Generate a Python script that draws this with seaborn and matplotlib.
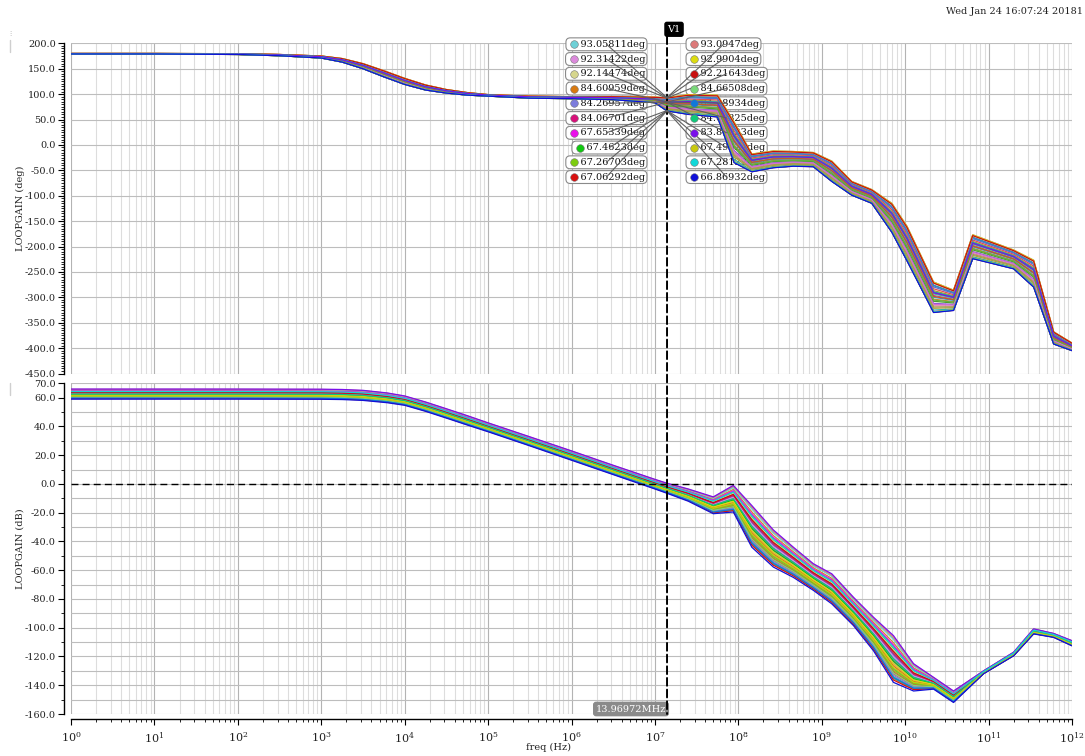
import numpy as np
import pandas as pd
import matplotlib
matplotlib.use("Agg")
import matplotlib.pyplot as plt
import seaborn as sns
from matplotlib.lines import Line2D
from matplotlib.patches import ConnectionPatch
from matplotlib.ticker import (MultipleLocator, FixedLocator, LogLocator,
                               LogFormatterSciNotation, NullFormatter, FuncFormatter)

# ---------------- sweep data ----------------
cursor_freq = 13.96972e6

# loop-gain phase envelope (deg): upper / lower edge of the sweep band
phase_freq = [1, 10, 100, 316, 1e3, 1.78e3, 3.16e3, 5.62e3, 1e4, 1.78e4, 3.16e4,
              5.62e4, 1e5, 3.16e5, 1e6, 3.16e6, 1e7, 13.96972e6, 2.51e7, 5.62e7,
              8.91e7, 1.45e8, 2.63e8, 4.57e8, 7.94e8, 1.32e9, 2.29e9, 3.98e9,
              6.92e9, 1.05e10, 2.19e10, 3.8e10, 6.46e10, 2e11, 3.47e11, 6.03e11, 1e12]
phase_hi = [180, 180, 179.5, 178, 175, 170, 160, 146, 131, 118, 109,
            103, 99, 96, 95, 95, 94, 93.0947, 99, 98,
            45, -18, -12, -13, -15, -32, -72, -88,
            -115, -160, -270, -286, -177, -207, -227, -368, -390]
phase_lo = [179, 179, 178, 175.5, 171, 163, 150, 134, 119, 108, 102,
            98, 96, 92, 91, 89, 83, 66.86932, 60, 55,
            -35, -53, -45, -42, -43, -72, -99, -115,
            -172, -228, -330, -326, -224, -244, -280, -392, -405]

# loop-gain magnitude envelope (dB)
mag_freq = [1, 10, 100, 1e3, 1.78e3, 3.16e3, 6.17e3, 1e4, 1.78e4, 3.16e4, 5.62e4,
            1e5, 3.16e5, 1e6, 3.16e6, 1e7, 13.96972e6, 2.51e7, 5.01e7, 8.71e7,
            1.45e8, 2.63e8, 4.57e8, 7.94e8, 1.32e9, 2.4e9, 4.17e9, 7.24e9,
            1.26e10, 2.19e10, 3.8e10, 8.71e10, 2e11, 3.47e11, 6.03e11, 1e12]
mag_hi = [66, 66, 66, 65.9, 65.7, 65.1, 63.3, 61.2, 57, 52.3, 47.5,
          42.5, 32.8, 23, 13, 3.2, 0.5, -3.5, -9, -1,
          -15, -32, -44, -55.5, -62.5, -78.8, -92.7, -105.5,
          -125, -134.5, -144, -130, -117, -100.8, -104, -109]
mag_lo = [59, 59, 59, 58.9, 58.7, 58.1, 56.5, 54.7, 50.5, 45.8, 41,
          36.3, 26.5, 16.5, 6.5, -3.5, -6.5, -12, -20.7, -19.5,
          -44, -57.8, -65, -74, -83.4, -98.5, -116, -138,
          -144, -142.7, -152, -132, -119.5, -104.3, -106.7, -112.6]

# marked runs: phase at the cursor and trace colours
marked_left_deg = [93.05811, 92.31422, 92.14474, 84.60959, 84.26957,
                   84.06701, 67.65339, 67.4623, 67.26703, 67.06292]
marked_left_colors = ["#6fd0d6", "#dc8adc", "#d6d68e", "#d87a10", "#7c7cdc",
                      "#d8107a", "#ea10ea", "#10c810", "#7ccc10", "#d81010"]
marked_left_mag_pos = [0.92, 0.55, 0.70, 0.35, 0.15, 0.62, 0.80, 0.45, 0.28, 0.05]

marked_right_deg = [93.0947, 92.9904, 92.21643, 84.66508, 84.48934,
                    84.08825, 83.85023, 67.49924, 67.28122, 66.86932]
marked_right_colors = ["#dc7a7a", "#dcdc10", "#c81010", "#7ad87a", "#1078d8",
                       "#10c87a", "#7a10ea", "#c8c810", "#10d8d8", "#1010d8"]
marked_right_mag_pos = [0.97, 0.40, 0.66, 0.20, 0.10, 0.50, 1.00, 0.32, 0.75, 0.0]

# remaining (unmarked) runs of the sweep
extra_phase_pos = [0.08, 0.14, 0.22, 0.30, 0.37, 0.44, 0.50, 0.56, 0.61,
                   0.72, 0.78, 0.84, 0.90, 0.18, 0.27, 0.41, 0.53, 0.88]
extra_mag_pos = [0.12, 0.25, 0.38, 0.58, 0.72, 0.85, 0.30, 0.47, 0.62,
                 0.08, 0.18, 0.52, 0.78, 0.93, 0.42, 0.68, 0.22, 0.60]
extra_colors = ["#2fb5a5", "#b59b3a", "#e07a9a", "#8a4fd8", "#4c9a2a", "#d08a2e",
                "#3a8fd0", "#c040a0", "#46c48a", "#9c9c30", "#e05050", "#5a6ad8",
                "#20a0a0", "#a0a050", "#d070d0", "#60b040", "#c06020", "#4080c0"]

# ---------------- build long-form tables ----------------
ph_hi = np.array(phase_hi, float)
ph_lo = np.array(phase_lo, float)
m_hi = np.array(mag_hi, float)
m_lo = np.array(mag_lo, float)
ci = phase_freq.index(cursor_freq)

runs = []  # (name, phase position, magnitude position, colour)
for k, (p, m, c) in enumerate(zip(extra_phase_pos, extra_mag_pos, extra_colors)):
    runs.append((f"run{k:02d}", p, m, c))
for v, m, c in zip(marked_left_deg + marked_right_deg,
                   marked_left_mag_pos + marked_right_mag_pos,
                   marked_left_colors + marked_right_colors):
    t = (v - ph_lo[ci]) / (ph_hi[ci] - ph_lo[ci])
    runs.append((f"{v:.7g}deg", t, m, c))

ph_rows, mag_rows = [], []
for name, tp, tm, c in runs:
    ph_rows.append(pd.DataFrame({"freq": phase_freq,
                                 "phase": ph_lo + tp * (ph_hi - ph_lo),
                                 "run": name}))
    mag_rows.append(pd.DataFrame({"freq": mag_freq,
                                  "mag": m_lo + tm * (m_hi - m_lo),
                                  "run": name}))
df_phase = pd.concat(ph_rows, ignore_index=True)
df_mag = pd.concat(mag_rows, ignore_index=True)
palette = {name: c for name, _, _, c in runs}
order = [r[0] for r in runs]

# ---------------- figure ----------------
sns.set_theme(style="white")
plt.rcParams["font.family"] = ["DejaVu Serif", "DejaVu Sans", "Noto Sans"]
plt.rcParams["mathtext.fontset"] = "dejavuserif"

W, H = 1085, 756
fig = plt.figure(figsize=(W / 100, H / 100), dpi=100)
x0, x1 = 71, 1072
ax_ph = fig.add_axes([x0 / W, 1 - 373.5 / H, (x1 - x0) / W, (373.5 - 43.3) / H])
ax_mag = fig.add_axes([x0 / W, 1 - 714 / H, (x1 - x0) / W, (714 - 383.3) / H])

for ax in (ax_ph, ax_mag):
    ax.set_xscale("log")

sns.lineplot(data=df_phase, x="freq", y="phase", hue="run", hue_order=order,
             palette=palette, estimator=None, sort=False, legend=False,
             lw=0.9, ax=ax_ph)
sns.lineplot(data=df_mag, x="freq", y="mag", hue="run", hue_order=order,
             palette=palette, estimator=None, sort=False, legend=False,
             lw=0.9, ax=ax_mag)

fmt1 = FuncFormatter(lambda v, p: f"{round(v, 6) + 0.0:.1f}")
for ax in (ax_ph, ax_mag):
    ax.set_xlim(1, 1e12)
    ax.xaxis.set_major_locator(FixedLocator([10.0 ** k for k in range(13)]))
    ax.xaxis.set_minor_locator(LogLocator(base=10, subs=np.arange(2, 10), numticks=200))
    ax.xaxis.set_minor_formatter(NullFormatter())
    ax.set_axisbelow(True)
    ax.xaxis.grid(True, which="major", color="#b3b3b3", lw=0.8)
    ax.xaxis.grid(True, which="minor", color="#dddddd", lw=0.8)
    for s in ("top", "right"):
        ax.spines[s].set_visible(False)
    ax.spines["left"].set_position(("outward", 5))
    ax.spines["left"].set_color("black")
    ax.spines["left"].set_linewidth(1.0)
    ax.yaxis.set_major_formatter(fmt1)
    ax.tick_params(axis="y", which="major", left=True, length=4, width=0.8,
                   labelsize=7, pad=2, color="black", labelcolor="#222222")
    ax.tick_params(axis="y", which="minor", left=True, length=2, width=0.6,
                   color="black")

ax_ph.set_ylim(-450, 200)
ax_ph.yaxis.set_major_locator(MultipleLocator(50))
ax_ph.yaxis.set_minor_locator(MultipleLocator(5))
ax_ph.yaxis.grid(True, which="major", color="#bdbdbd", lw=0.8)
ax_ph.spines["bottom"].set_visible(False)
ax_ph.tick_params(axis="x", which="both", bottom=False, labelbottom=False)

ax_mag.set_ylim(-160, 70)
ax_mag.yaxis.set_major_locator(FixedLocator([70] + list(range(60, -161, -20))))
ax_mag.yaxis.set_minor_locator(MultipleLocator(10))
ax_mag.yaxis.grid(True, which="both", color="#bdbdbd", lw=0.8)
ax_mag.spines["bottom"].set_position(("outward", 3.6))
ax_mag.spines["bottom"].set_color("black")
ax_mag.spines["bottom"].set_linewidth(1.0)
ax_mag.xaxis.set_major_formatter(LogFormatterSciNotation())
ax_mag.tick_params(axis="x", which="major", bottom=True, length=4, width=0.8,
                   labelsize=8, pad=4, color="black", labelcolor="#222222")
ax_mag.tick_params(axis="x", which="minor", bottom=True, length=2.5, width=0.6,
                   color="black")
ax_mag.axhline(0, color="black", lw=1.0, ls=(0, (5, 3)), zorder=3)

ax_ph.set_xlabel("")
ax_ph.set_ylabel("LOOPGAIN (deg)", fontsize=7, color="#222222")
ax_ph.yaxis.set_label_coords((25 - x0) / (x1 - x0), 0.5)
ax_mag.set_ylabel("LOOPGAIN (dB)", fontsize=7, color="#222222")
ax_mag.yaxis.set_label_coords((25 - x0) / (x1 - x0), 0.5)
ax_mag.set_xlabel("freq (Hz)", fontsize=7, color="#222222")
ax_mag.xaxis.set_label_coords((548 - x0) / (x1 - x0), -(743 - 714) / (714 - 383.3))

# ---------------- cursor ----------------
cursor = ConnectionPatch(xyA=(cursor_freq, 1 + 7 / 330.2), coordsA=ax_ph.get_xaxis_transform(),
                         xyB=(cursor_freq, 0), coordsB=ax_mag.get_xaxis_transform(),
                         color="black", lw=1.4, ls=(0, (4, 2)), zorder=4)
fig.add_artist(cursor)
ax_ph.annotate("V1", xy=(cursor_freq, 1.0), xycoords=ax_ph.get_xaxis_transform(),
               xytext=(7, 14), textcoords="offset pixels", ha="center", va="center",
               fontsize=7, color="white", annotation_clip=False,
               bbox=dict(boxstyle="round,pad=0.25,rounding_size=0.2", fc="black", ec="black"))
ax_mag.annotate(f"{cursor_freq / 1e6:.7g}MHz", xy=(cursor_freq, 0.0),
                xycoords=ax_mag.get_xaxis_transform(), xytext=(-36, 5),
                textcoords="offset pixels", ha="center", va="center",
                fontsize=7, color="white", annotation_clip=False, zorder=5,
                bbox=dict(boxstyle="round,pad=0.22,rounding_size=0.25", fc="#8a8a8a", ec="#8a8a8a"))

# ---------------- cursor value boxes ----------------
box_style = dict(boxstyle="round,pad=0.2,rounding_size=0.45", fc="white", ec="#8a8a8a", lw=0.8)
label_items = []
for i, (v, c) in enumerate(zip(marked_left_deg, marked_left_colors)):
    y = 44.3 + i * 14.75
    t = ax_ph.text(645 / W, 1 - y / H, f"    {v:.7g}deg", transform=fig.transFigure,
                   ha="right", va="center", fontsize=7, color="#111111",
                   bbox=box_style, zorder=1.6)
    label_items.append((t, v, c))
for i, (v, c) in enumerate(zip(marked_right_deg, marked_right_colors)):
    y = 44.3 + i * 14.75
    t = ax_ph.text(688 / W, 1 - y / H, f"    {v:.7g}deg", transform=fig.transFigure,
                   ha="left", va="center", fontsize=7, color="#111111",
                   bbox=box_style, zorder=1.6)
    label_items.append((t, v, c))

fig.canvas.draw()
renderer = fig.canvas.get_renderer()
for t, v, c in label_items:
    bb = t.get_bbox_patch().get_window_extent(renderer)
    ymid = 0.5 * (bb.y0 + bb.y1)
    px, py = ax_ph.transData.transform((cursor_freq, v))
    fig.add_artist(Line2D([0.5 * (bb.x0 + bb.x1) / W, px / W], [ymid / H, py / H],
                          transform=fig.transFigure, color="#606060", lw=0.8, zorder=5))
    fig.add_artist(Line2D([(bb.x0 + 8) / W], [ymid / H], transform=fig.transFigure,
                          marker="o", ms=5.5, mfc=c, mec="#777777", mew=0.4,
                          ls="none", zorder=6))

# small window markers at the left edge
for ya, yb in ((40, 52), (383, 395)):
    fig.add_artist(Line2D([10 / W, 10 / W], [1 - ya / H, 1 - yb / H],
                          transform=fig.transFigure, color="#cfcfcf", lw=1.0))
fig.text(10 / W, 1 - 34 / H, "\u205d", fontsize=5, color="#aaaaaa", ha="center", va="center",
         family=["DejaVu Sans", "Noto Sans", "Noto Sans CJK SC"])

fig.text(1083 / W, 1 - 11 / H, "Wed Jan 24 16:07:24 20181", ha="right", va="center",
         fontsize=7, color="#222222")

fig.savefig("out.png", dpi=100)
